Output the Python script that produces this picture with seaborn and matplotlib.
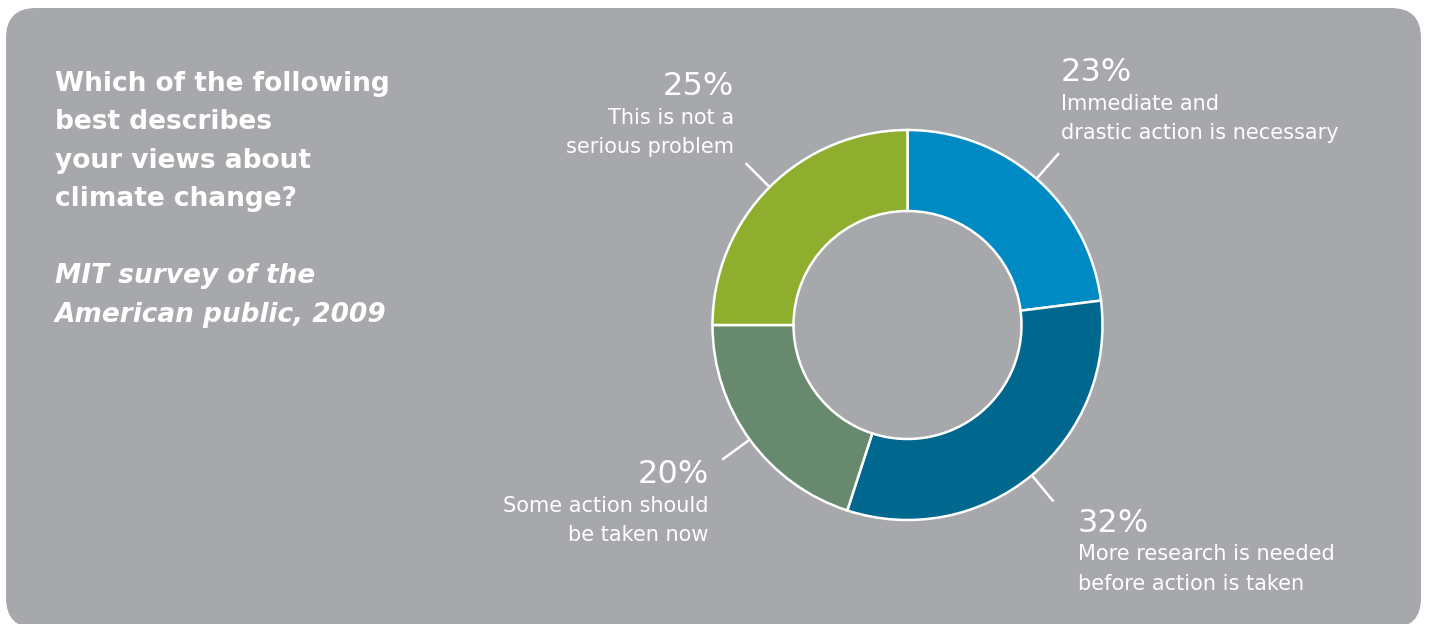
import matplotlib
matplotlib.use("Agg")
import matplotlib.pyplot as plt
from matplotlib.patches import FancyBboxPatch
import numpy as np
import seaborn as sns

# Survey answers, clockwise from 12 o'clock
answers = [
    "Immediate and\ndrastic action is necessary",
    "More research is needed\nbefore action is taken",
    "Some action should\nbe taken now",
    "This is not a\nserious problem",
]
shares = [23, 32, 20, 25]
slice_colors = ["#008ac3", "#00688f", "#678a6f", "#8fae2d"]

title_lines = ["Which of the following", "best describes",
               "your views about", "climate change?"]
source_lines = ["MIT survey of the", "American public, 2009"]

sns.set_theme(style="white")
plt.rcParams["font.family"] = ["DejaVu Sans"]

W, H = 1429, 624
fig = plt.figure(figsize=(W / 100, H / 100), dpi=100)
fig.patch.set_facecolor("white")
ax = fig.add_axes([0, 0, 1, 1])


def py(y):
    """Convert a top-down pixel row to the axis y value."""
    return H - y


panel_color = "#a7a8ab"
ax.add_patch(FancyBboxPatch((6, py(628)), 1415, 620,
                            boxstyle="round,pad=0,rounding_size=30",
                            facecolor=panel_color, edgecolor="none", zorder=0))

palette = sns.color_palette(slice_colors)
cx, cy = 907.5, py(325)
r_out, ring = 195, 81
wedges, _ = ax.pie(shares, colors=palette, startangle=90, counterclock=False,
                   radius=r_out, center=(cx, cy),
                   wedgeprops=dict(width=ring, edgecolor="white", linewidth=1.8))
for w in wedges:
    w.set_zorder(2)

ax.set_xlim(0, W)
ax.set_ylim(0, H)
ax.set_aspect("equal")
ax.axis("off")

# Leader lines from each slice's mid-angle
for w in wedges:
    mid = np.deg2rad((w.theta1 + w.theta2) / 2)
    r0, r1 = r_out + 1, r_out + 34
    ax.plot([cx + r0 * np.cos(mid), cx + r1 * np.cos(mid)],
            [cy + r0 * np.sin(mid), cy + r1 * np.sin(mid)],
            color="white", lw=1.8, solid_capstyle="butt", zorder=3)

# Label anchors: x, baseline of the percentage line, alignment
anchors = [(1061, 81, "left"), (1078, 532, "left"),
           (709, 483, "right"), (734, 95, "right")]
for (x, base, ha), pct, text in zip(anchors, shares, answers):
    ax.text(x, py(base), f"{pct}%", ha=ha, va="baseline", color="white",
            fontsize=23)
    for i, line in enumerate(text.split("\n")):
        ax.text(x, py(base + 28.5 + 29.5 * i), line, ha=ha, va="baseline",
                color="white", fontsize=15)

# Question and source
for i, line in enumerate(title_lines):
    ax.text(55, py(91 + 38.3 * i), line, ha="left", va="baseline",
            color="white", fontsize=19, fontweight="bold")
for i, line in enumerate(source_lines):
    ax.text(55, py(283 + 38.5 * i), line, ha="left", va="baseline",
            color="white", fontsize=19, fontweight="bold", fontstyle="italic")

fig.savefig("out.png", dpi=100, facecolor="white")
